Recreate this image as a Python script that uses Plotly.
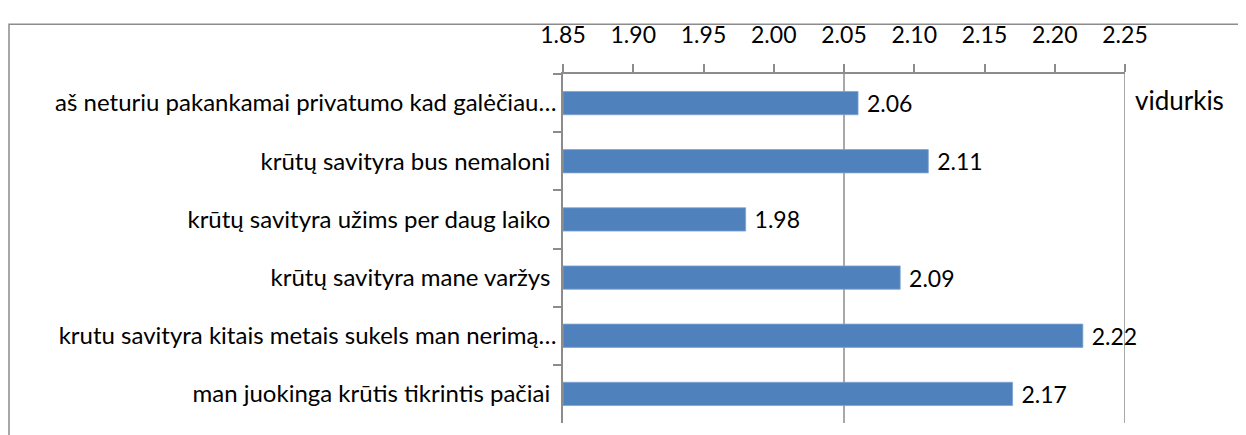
import plotly.graph_objects as go

categories = [
    "aš neturiu pakankamai privatumo kad galėčiau…",
    "krūtų savityra bus nemaloni\u00a0",
    "krūtų savityra užims per daug laiko\u00a0",
    "krūtų savityra mane varžys\u00a0",
    "krutu savityra kitais metais sukels man nerimą…",
    "man juokinga krūtis tikrintis pačiai\u00a0",
]
values = [2.06, 2.11, 1.98, 2.09, 2.22, 2.17]
series_name = "vidurkis"
grid_values = [2.05, 2.25]
axis_min = 1.85

FONT = "Lato, 'Open Sans', sans-serif"
GRAY = "#8c8c8c"

# page body has an 8px margin; compensate
OFF = 8
W, H = 1246 - OFF, 435 - OFF
L = 563 - OFF
T = 65 - OFF
R = W - (1125 - OFF)
B = H - (423 - OFF)
pw, ph = W - L - R, H - T - B

fig = go.Figure()
fig.add_trace(go.Bar(
    x=[v - axis_min for v in values], y=categories, orientation="h", name=series_name,
    base=axis_min,
    marker=dict(color="#4F81BD", line=dict(color="#7fa3d0", width=0.8)),
    text=[f"\u00a0{v:.2f}" for v in values], textposition="outside",
    constraintext="none",
    textfont=dict(family=FONT, size=23, color="black"),
    cliponaxis=False, showlegend=False,
))

shapes = []
for g in grid_values:
    shapes.append(dict(type="line", xref="x", yref="paper", x0=g, x1=g, y0=0, y1=1,
                       line=dict(color=GRAY, width=1.5), layer="below"))
# outer chart border
shapes.append(dict(type="rect", xref="paper", yref="paper",
                   x0=(9 - OFF - L) / pw, x1=(W + 20 - L) / pw,
                   y0=-(B + 20) / ph, y1=1 + (T - (14 - OFF)) / ph,
                   line=dict(color=GRAY, width=1.5), fillcolor="rgba(0,0,0,0)"))

fig.update_layout(
    width=W, height=H,
    margin=dict(l=L, r=R, t=T, b=B),
    paper_bgcolor="white", plot_bgcolor="white",
    bargap=0.6,
    uniformtext=dict(mode=False),
    font=dict(family=FONT, size=23, color="black"),
    shapes=shapes,
    annotations=[dict(text=series_name, xref="paper", yref="paper",
                      x=(1133 - OFF - L) / pw, y=1 - (92 - 65) / ph,
                      xanchor="left", yanchor="middle", showarrow=False,
                      font=dict(family=FONT, size=26, color="black"))],
    xaxis=dict(side="top", range=[1.85, 2.25], tick0=1.85, dtick=0.05,
               tickformat=".2f", ticks="outside", ticklen=8, tickcolor=GRAY,
               tickwidth=1.5, showline=True, linecolor=GRAY, linewidth=1.5,
               showgrid=False, zeroline=False, ticklabelstandoff=12,
               tickfont=dict(family=FONT, size=23)),
    yaxis=dict(autorange="reversed", showline=True, linecolor=GRAY, linewidth=1.5,
               ticks="outside", ticklen=8, tickcolor=GRAY, tickwidth=1.5,
               tickson="boundaries", showgrid=False, ticklabelstandoff=0,
               tickfont=dict(family=FONT, size=24)),
)

fig.write_html("out.html")
